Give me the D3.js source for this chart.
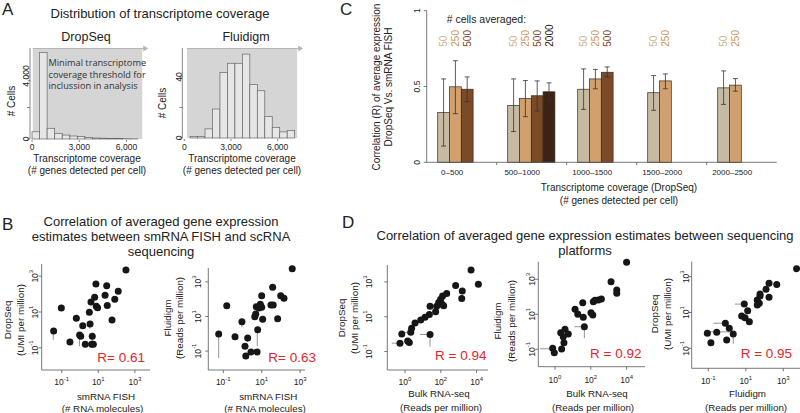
<!DOCTYPE html>
<html><head><meta charset="utf-8">
<script src="https://cdn.jsdelivr.net/npm/d3@7"></script>
<style>body{margin:0;background:#fff}svg{display:block}</style>
</head><body><script>
// ================= DATA =================
// Panel A – histograms (# cells per transcriptome-coverage bin)
const dropseqCounts  = [460, 5500, 680, 360, 250, 190, 150, 90, 60, 50, 40, 30, 20, 10];
const fluidigmCounts = [1, 1, 6, 19, 43, 49, 49, 55, 35, 31, 14, 7, 4, 5];
const dropseqBinStart = 0, fluidigmBinStart = 370, binWidth = 480;
const histXTicks = [0, 3000, 6000];
const dropseqYTicks = [0, 2000, 4000], dropseqYLabels = [0, 4000];
const fluidigmYTicks = [0, 20, 40],   fluidigmYLabels = [0, 40];
const thresholdNote = ["Minimal transcriptome", "coverage threshold for", "inclussion in analysis"];

// Panel C – correlation vs coverage
const cCategories = ["0\u2013500", "500\u20131000", "1000\u20131500", "1500\u20132000", "2000\u20132500"];
const cCellGroups = ["50", "250", "500", "2000"];
const c50     = [0.328, 0.375, 0.482, 0.459, 0.491];
const c50Lo   = [0.107, 0.203, 0.349, 0.343, 0.382];
const c50Hi   = [0.550, 0.550, 0.616, 0.572, 0.603];
const c250    = [0.498, 0.421, 0.550, 0.537, 0.509];
const c250Lo  = [0.321, 0.301, 0.485, 0.485, 0.469];
const c250Hi  = [0.670, 0.539, 0.613, 0.583, 0.552];
const c500    = [0.482, 0.439, 0.594, null, null];
const c500Lo  = [0.400, 0.338, 0.563, null, null];
const c500Hi  = [0.563, 0.537, 0.629, null, null];
const c2000   = [null, 0.465, null, null, null];
const c2000Lo = [null, 0.406, null, null, null];
const c2000Hi = [null, 0.524, null, null, null];
const cYTicks = [0, 0.5, 1];

// Panel B – log10 values [x, y]
const b1Points = [[2.51,3.35],[0.87,2.56],[1.46,2.47],[2.09,2.16],[0.80,1.82],[1.37,1.93],[1.90,1.71],[0.60,1.56],[0.89,1.32],[0.96,1.24],[1.49,1.37],[-1.02,1.22],[0.51,0.98],[1.75,0.55],[-0.20,0.65],[0.55,0.33],[0.15,0.23],[-0.02,-0.28],[0.04,-0.36],[-1.44,-0.06],[0.67,-0.36],[-0.55,-0.68],[0.29,-0.80],[0.64,-0.80],[0.73,-0.80]];
const b1Err = [[-0.03,-0.28,-0.03,-0.92],[-1.46,-0.06,-1.46,-0.55],[0.53,0.33,0.53,0.07],[0.67,-0.36,0.67,-0.64]];
const b2Points = [[2.59,3.76],[1.57,2.69],[1.99,2.20],[2.16,2.05],[1.0,2.20],[-0.82,1.62],[1.48,1.66],[1.60,1.66],[0.93,1.71],[0.72,1.57],[1.0,1.53],[0.86,1.49],[0.69,1.14],[0.64,0.99],[1.05,0.84],[1.83,0.87],[-0.03,0.70],[0.79,0.24],[-1.24,-0.01],[-0.39,-0.17],[0.27,-0.24],[0.13,-0.72],[0.76,-1.05],[0.44,-1.05],[0.17,-1.28]];
const b2Err = [[-1.24,-0.01,-1.24,-1.40],[0.77,0.24,0.77,-0.72],[-0.03,0.70,-0.03,0.38],[0.64,0.99,0.64,0.82],[0.27,-0.24,0.27,-0.47]];

// Panel D – log10 values [x, y]
const d1Points = [[3.69,3.69],[4.10,2.87],[2.83,2.79],[3.20,2.48],[3.17,2.05],[2.33,2.33],[2.10,2.19],[1.99,2.0],[1.88,1.81],[2.07,1.72],[2.16,1.63],[1.77,1.60],[1.71,1.29],[1.40,1.60],[1.36,1.12],[1.12,0.97],[0.88,0.81],[0.56,0.64],[0.37,0.33],[0.32,0.10],[1.40,-0.02],[-0.18,0.0],[0.15,-0.39],[0.24,-0.48],[-0.28,-0.52]];
const d1Err = [[0.84,-0.02,1.40,-0.02],[1.40,-0.02,1.40,-0.72],[-0.74,-0.52,-0.28,-0.52],[0.0,0.10,0.32,0.10]];
const d2Points = [[4.0,3.97],[3.13,2.86],[3.45,2.39],[3.45,2.2],[2.59,1.87],[2.42,1.82],[2.23,1.8],[2.14,1.72],[1.55,1.66],[2.01,1.09],[2.11,0.96],[1.12,1.29],[1.27,1.02],[1.58,0.83],[1.64,0.29],[0.56,0.14],[0.74,-0.13],[0.32,-0.05],[0.46,-0.28],[0.50,-0.62],[0.37,-0.98],[-0.13,-0.94],[-0.04,-1.19]];
const d2Err = [[1.08,0.29,1.64,0.29],[1.64,0.29,1.64,-0.37],[-0.84,-0.97,-0.10,-0.97],[1.15,0.83,1.58,0.83],[0.48,-0.28,0.48,-0.62]];
const d3Points = [[3.71,3.45],[2.24,2.63],[2.65,2.57],[2.08,2.30],[1.76,2.03],[1.76,1.92],[2.24,1.85],[1.61,1.70],[1.72,1.51],[1.61,1.42],[0.92,1.47],[1.10,1.10],[0.78,0.80],[0.96,0.71],[1.19,0.49],[-0.09,0.40],[0.12,0.12],[-0.55,-0.11],[0.33,-0.20],[-1.05,-0.16],[-0.02,-0.54],[-0.86,-0.69]];
const d3Err = [[-0.73,0.40,-0.09,0.40],[-1.18,-0.08,0.15,-0.08],[0.33,-0.20,0.33,-0.76],[0.42,1.47,0.92,1.47]];

const rB1 = "R= 0.61", rB2 = "R= 0.63", rD1 = "R = 0.94", rD2 = "R = 0.92", rD3 = "R = 0.95";

// ================= DRAWING =================
const FONT = "Liberation Sans, Arial, Helvetica, sans-serif";
const TXT = "#222", AXIS = "#555";
const svg = d3.select("body").append("svg").attr("width", 800).attr("height", 413)
  .attr("font-family", FONT);
svg.append("rect").attr("width", 800).attr("height", 413).attr("fill", "#fff");

function text(x, y, s, o = {}) {
  const t = svg.append("text").attr("x", x).attr("y", y).text(s)
    .attr("font-size", o.size || 10).attr("fill", o.fill || TXT)
    .attr("text-anchor", o.anchor || "start");
  if (o.family) t.attr("font-family", o.family);
  return t;
}
function vtext(cx, cy, s, o = {}) {
  return svg.append("text").attr("transform", `translate(${cx},${cy}) rotate(-90)`)
    .attr("text-anchor", o.anchor || "middle").attr("dominant-baseline", "central")
    .attr("font-size", o.size || 10).attr("fill", o.fill || TXT).text(s);
}
function line(x1, y1, x2, y2, c = AXIS, w = 0.8) {
  return svg.append("line").attr("x1", x1).attr("y1", y1).attr("x2", x2).attr("y2", y2)
    .attr("stroke", c).attr("stroke-width", w);
}

// ---------- Panel letters & titles ----------
text(2, 15, "A", { size: 17 });
text(160, 17.5, "Distribution of transcriptome coverage", { size: 13, anchor: "middle" });
text(340, 15, "C", { size: 17 });
text(2, 230, "B", { size: 17 });
["Correlation of averaged gene expression", "estimates between smRNA FISH and scRNA", "sequencing"]
  .forEach((s, i) => text(161, 226 + i * 15, s, { size: 13, anchor: "middle" }));
text(342, 228, "D", { size: 17 });
["Correlation of averaged gene expression estimates between sequencing", "platforms"]
  .forEach((s, i) => text(585, 240 + i * 15, s, { size: 13, anchor: "middle" }));

// ---------- Panel A histograms ----------
function histogram(cfg) {
  const x = d3.scaleLinear().domain([0, 6000]).range(cfg.xr);
  const y = d3.scaleLinear().domain([0, cfg.yTicks[2]]).range(cfg.yr);
  const y0 = y(0);
  svg.append("rect").attr("x", x(cfg.grey[0])).attr("y", 48)
    .attr("width", x(cfg.grey[1]) - x(cfg.grey[0])).attr("height", y0 - 48).attr("fill", "#d5d5d5");
  const ax = x(cfg.grey[1]);
  line(x(cfg.grey[0]), 48.5, ax + 3, 48.5, "#b5b5b5", 1);
  svg.append("path").attr("d", `M${ax + 1},45.5 L${ax + 6},48.5 L${ax + 1},51.5 Z`).attr("fill", "#b5b5b5");
  svg.append("g").selectAll("rect").data(cfg.counts).join("rect")
    .attr("x", (d, i) => x(cfg.start + i * binWidth))
    .attr("width", x(binWidth) - x(0))
    .attr("y", d => y(d)).attr("height", d => y0 - y(d))
    .attr("fill", "#e6e6e6").attr("stroke", "#666").attr("stroke-width", 0.7);
  const x0 = cfg.xr[0] - 2;
  line(x0, 48, x0, y0, AXIS, 0.7);
  cfg.yTicks.forEach(t => line(x0 - 3, y(t), x0, y(t), AXIS, 0.7));
  cfg.yLabels.forEach(t => vtext(cfg.ylx, y(t), d3.format(",")(t), { size: 8.5 }));
  histXTicks.forEach(t => {
    line(x(t), y0 + 1, x(t), y0 + 3, AXIS, 0.7);
    text(x(t), 150, d3.format(",")(t), { size: 8.5, anchor: "middle" });
  });
  vtext(cfg.cellsX, cfg.cellsY, "# Cells", { size: 10 });
  text(cfg.title[0], 41, cfg.title[1], { size: 12.5, anchor: "middle" });
  text(cfg.labX, 162, "Transcriptome coverage", { size: 10, anchor: "middle" });
  text(cfg.labX, 174, "(# genes detected per cell)", { size: 10, anchor: "middle" });
}
histogram({ counts: dropseqCounts, start: dropseqBinStart, xr: [32, 126.5], yr: [139, 76],
  yTicks: dropseqYTicks, yLabels: dropseqYLabels, grey: [50, 7000], ylx: 26,
  cellsX: 11, cellsY: 101, title: [86, "DropSeq"], labX: 87 });
histogram({ counts: fluidigmCounts, start: fluidigmBinStart, xr: [184.3, 277.7], yr: [138, 77],
  yTicks: fluidigmYTicks, yLabels: fluidigmYLabels, grey: [170, 7250], ylx: 178.5,
  cellsX: 162, cellsY: 103, title: [246, "Fluidigm"], labX: 242 });
thresholdNote.forEach((s, i) => text(48.5, 66 + i * 11.5, s, { size: 9.2, fill: "#333", family: "Open Sans, sans-serif" }));

// ---------- Panel C grouped bars ----------
(function () {
  const y = d3.scaleLinear().domain([0, 1]).range([162.3, 10.7]);
  const x0 = d3.scaleBand().domain(cCategories).range([426.7, 776.7]);
  const x1 = d3.scaleBand().domain(cCellGroups).range([11, 58.2]);
  const fills = { "50": "#c6baa2", "250": "#d2a06e", "500": "#7b4a27", "2000": "#3c2315" };
  const labFill = { "50": "#cfb491", "250": "#c99564", "500": "#7b4a27", "2000": "#2a170d" };
  const series = { "50": [c50, c50Lo, c50Hi], "250": [c250, c250Lo, c250Hi],
                   "500": [c500, c500Lo, c500Hi], "2000": [c2000, c2000Lo, c2000Hi] };
  const bw = x1.bandwidth();
  cCategories.forEach((cat, ci) => {
    cCellGroups.forEach(cg => {
      const [m, lo, hi] = series[cg];
      if (m[ci] == null) return;
      const bx = x0(cat) + x1(cg), cx = bx + bw / 2;
      svg.append("rect").attr("x", bx).attr("y", y(m[ci])).attr("width", bw)
        .attr("height", y(0) - y(m[ci])).attr("fill", fills[cg])
        .attr("stroke", "#3a2a1e").attr("stroke-width", 0.7);
      line(cx, y(hi[ci]), cx, y(lo[ci]), "#333", 0.8);
      line(cx - 2.5, y(hi[ci]), cx + 2.5, y(hi[ci]), "#333", 0.8);
      line(cx - 2.5, y(lo[ci]), cx + 2.5, y(lo[ci]), "#333", 0.8);
      vtext(cx, 46.7, cg, { size: 10, anchor: "start", fill: labFill[cg] });
    });
    text(x0(cat) + 25.5, 175, cat, { size: 8, anchor: "middle" });
  });
  line(426.7, 10.7, 426.7, 162.3, AXIS, 0.8);
  line(426.7, 162.3, 776.7, 162.3, AXIS, 0.8);
  cYTicks.forEach(t => { line(423.7, y(t), 426.7, y(t), AXIS, 0.8); vtext(417, y(t), String(t), { size: 8.5 }); });
  cCategories.forEach((c, i) => { if (i > 0) line(x0(c), 162.3, x0(c), 165, AXIS, 0.8); });
  text(446.7, 23, "# cells averaged:", { size: 10.5 });
  vtext(376, 87, "Correlation (R) of average expression", { size: 10 });
  vtext(388.5, 87, "DropSeq Vs. smRNA FISH", { size: 10 });
  text(619, 191, "Transcriptome coverage (DropSeq)", { size: 10, anchor: "middle" });
  text(619, 204, "(# genes detected per cell)", { size: 10, anchor: "middle" });
})();

// ---------- Scatter plots (B, D) ----------
function powLabel(t, n) {
  t.append("tspan").text("10");
  t.append("tspan").attr("dy", -4).attr("font-size", 6).text(n);
}
function scatter(c) {
  const x = d3.scaleLinear().domain(c.xDom).range(c.xRng);
  const y = d3.scaleLinear().domain([-1, 3]).range(c.yRng);
  line(c.ax, c.yTop, c.ax, c.ay, AXIS, 0.8);
  line(c.ax, c.ay, c.xEnd, c.ay, AXIS, 0.8);
  c.xTicks.forEach(t => {
    line(x(t), c.ay, x(t), c.ay + 3, AXIS, 0.8);
    const tt = svg.append("text").attr("x", x(t)).attr("y", c.xtb).attr("text-anchor", "middle")
      .attr("font-size", 8.5).attr("fill", TXT);
    powLabel(tt, t);
  });
  [-1, 1, 3].forEach(t => {
    line(c.ax - 3, y(t), c.ax, y(t), AXIS, 0.8);
    const tt = svg.append("text").attr("transform", `translate(${c.ytx},${y(t)}) rotate(-90)`)
      .attr("text-anchor", "middle").attr("dominant-baseline", "central")
      .attr("font-size", 8.5).attr("fill", TXT);
    powLabel(tt, t);
  });
  c.err.forEach(e => line(x(e[0]), y(e[1]), x(e[2]), y(e[3]), "#8a8a8a", 0.9));
  svg.append("g").selectAll("circle").data(c.pts).join("circle")
    .attr("cx", d => x(d[0])).attr("cy", d => y(d[1])).attr("r", 3.5).attr("fill", "#161616");
  vtext(c.yl[0], c.yl[2], c.ylab[0], { size: 9.8 });
  vtext(c.yl[1], c.yl[2], c.ylab[1], { size: 9.8 });
  text(c.xl[0], c.xl[2], c.xlab[0], { size: 9.8, anchor: "middle" });
  text(c.xl[1], c.xl[3], c.xlab[1], { size: 9.8, anchor: "middle" });
  text(c.r[0], c.r[1], c.r[2], { size: 13.5, anchor: c.r[3], fill: "#e3242b" });
}
scatter({ pts: b1Points, err: b1Err, xDom: [-1, 3], xRng: [61.7, 134.9], yRng: [347.8, 276.2],
  ax: 41.7, ay: 370, xEnd: 150, yTop: 264, xTicks: [-1, 1, 3], xtb: 385, ytx: 35,
  yl: [7, 20, 320], ylab: ["DropSeq", "(UMI per million)"],
  xl: [106, 102.5, 400, 411.7], xlab: ["smRNA FISH", "(# RNA molecules)"], r: [145, 362, rB1, "end"] });
scatter({ pts: b2Points, err: b2Err, xDom: [-1, 3], xRng: [223.3, 300.1], yRng: [351.1, 281.9],
  ax: 208.3, ay: 370, xEnd: 305, yTop: 268, xTicks: [-1, 1, 3], xtb: 385, ytx: 198.3,
  yl: [167, 179, 318], ylab: ["Fluidigm", "(Reads per million)"],
  xl: [268.3, 265, 400, 411.7], xlab: ["smRNA FISH", "(# RNA molecules)"], r: [268.3, 362, rB2, "start"] });
scatter({ pts: d1Points, err: d1Err, xDom: [0, 4], xRng: [405, 476.6], yRng: [351.5, 281.9],
  ax: 387.3, ay: 370, xEnd: 488, yTop: 265, xTicks: [0, 2, 4], xtb: 385, ytx: 369,
  yl: [341.5, 354, 318], ylab: ["DropSeq", "(UMI per million)"],
  xl: [439, 441, 396.7, 410.7], xlab: ["Bulk RNA-seq", "(Reads per million)"], r: [435, 360, rD1, "start"] });
scatter({ pts: d2Points, err: d2Err, xDom: [0, 4], xRng: [555, 626.6], yRng: [349.3, 279.3],
  ax: 538.3, ay: 366.7, xEnd: 645, yTop: 261.7, xTicks: [0, 2, 4], xtb: 383, ytx: 531.7,
  yl: [497, 511, 321], ylab: ["Fluidigm", "(Reads per million)"],
  xl: [597, 593, 396.7, 410.7], xlab: ["Bulk RNA-seq", "(Reads per million)"], r: [590, 358.3, rD2, "start"] });
scatter({ pts: d3Points, err: d3Err, xDom: [-1, 3], xRng: [708.3, 783.3], yRng: [348.3, 276.7],
  ax: 691.7, ay: 368.3, xEnd: 800, yTop: 261.7, xTicks: [-1, 1, 3], xtb: 384, ytx: 686,
  yl: [654, 667.5, 314], ylab: ["DropSeq", "(UMI per million)"],
  xl: [747.5, 746, 396.7, 410.7], xlab: ["Fluidigm", "(Reads per million)"], r: [740.7, 358.3, rD3, "start"] });
</script></body></html>
